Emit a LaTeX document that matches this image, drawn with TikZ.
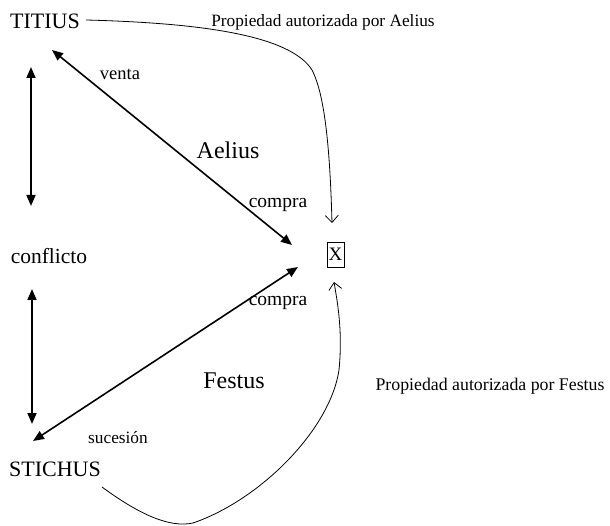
\documentclass[tikz,border=0pt]{standalone}
\usepackage{fontspec}
\setmainfont{Liberation Serif}
\usetikzlibrary{arrows.meta}
\begin{document}
\begin{tikzpicture}[x=1pt,y=-1pt,
  lbl/.style={inner sep=0pt,anchor=center},
  big/.style={lbl,font=\fontsize{22}{24}\selectfont},
  bigger/.style={lbl,font=\fontsize{24}{26}\selectfont},
  medium/.style={lbl,font=\fontsize{19.5}{21}\selectfont},
  small/.style={lbl,font=\fontsize{17.3}{19}\selectfont},
  xbox/.style={draw,line width=0.8pt,inner sep=0pt,minimum width=17pt,minimum height=25pt,font=\fontsize{19}{20}\selectfont},
  thickarrow/.style={line width=1.6pt,{Triangle[length=11pt,width=9pt]}-{Triangle[length=11pt,width=9pt]}},
  thinarrow/.style={line width=0.8pt,-{Straight Barb[length=7pt,width=13pt]}}]
\useasboundingbox (0,0) rectangle (610,526);
\node[big] (titius) at (45,21) {TITIUS};
\node[small] (propA) at (323,22) {Propiedad autorizada por Aelius};
\node[lbl,font=\fontsize{18.5}{20}\selectfont] (venta) at (120,74) {venta};
\node[bigger] (aelius) at (228,150) {Aelius};
\node[medium] (compraA) at (278,205) {compra};
\node[xbox] (x) at (335.5,254.5) {X};
\node[lbl,font=\fontsize{21.5}{23}\selectfont] (conflicto) at (49,256) {conflicto};
\node[medium] (compraB) at (278,303) {compra};
\node[bigger] (festus) at (234,381) {Festus};
\node[small] (sucesion) at (118,438) {sucesión};
\node[small,font=\fontsize{17.8}{19}\selectfont] (propF) at (490,386) {Propiedad autorizada por Festus};
\node[big] (stichus) at (55,469) {STICHUS};
% free ends of connectors
\coordinate (c1) at (31,67);
\coordinate (c2) at (31,206);
\coordinate (c3) at (32,289);
\coordinate (c4) at (32,424);
\coordinate (a1) at (52,50);
\coordinate (a2) at (292,245);
\coordinate (f1) at (298,267);
\coordinate (f2) at (33,441);
\coordinate (t0) at (86,20);
\coordinate (t1) at (312,70);
\coordinate (t2) at (332,223);
\coordinate (s0) at (102,487);
\coordinate (s1) at (193,523);
\coordinate (s2) at (339,370);
\coordinate (s3) at (334,282);
\draw[thickarrow] (c1) -- (c2);
\draw[thickarrow] (c3) -- (c4);
\draw[thickarrow] (a1) -- (a2);
\draw[thickarrow] (f1) -- (f2);
\draw[thinarrow] (t0) .. controls (200,23) and (290,35) .. (t1) .. controls (325,95) and (330,150) .. (t2);
\draw[thinarrow] (s0) .. controls (140,515) and (170,528) .. (s1) .. controls (260,500) and (330,430) .. (s2) .. controls (343,330) and (337,300) .. (s3);
\end{tikzpicture}
\end{document}
